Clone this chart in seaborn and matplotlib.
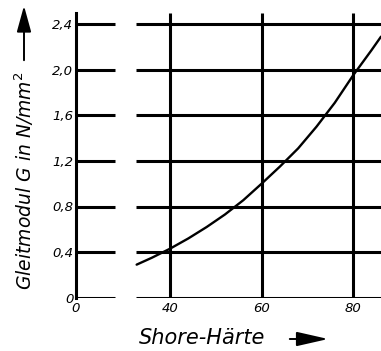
import numpy as np
import pandas as pd
import matplotlib
matplotlib.use("Agg")
import matplotlib.pyplot as plt
from matplotlib.patches import FancyArrowPatch
import seaborn as sns

# Shear modulus of elastomers versus Shore hardness
shore = [32.7, 36.0, 40.0, 44.0, 48.0, 52.0, 56.0, 60.0,
         64.0, 68.0, 72.0, 76.0, 80.0, 84.0, 86.1]
modulus = [0.29, 0.35, 0.43, 0.52, 0.62, 0.73, 0.855, 1.00,
           1.15, 1.31, 1.50, 1.71, 1.95, 2.17, 2.29]

x_ticks = [40, 60, 80]
x_tick_labels = ["40", "60", "80"]
y_ticks = [0.0, 0.4, 0.8, 1.2, 1.6, 2.0, 2.4]
y_tick_labels = ["0", "0,4", "0,8", "1,2", "1,6", "2,0", "2,4"]

x_label = "Shore-Härte"
y_label = "Gleitmodul G in N/mm$^{2}$"

df = pd.DataFrame({"shore": shore, "G": modulus})

sns.set_style("white")
plt.rcParams["font.family"] = ["DejaVu Sans"]
plt.rcParams["mathtext.fontset"] = "dejavusans"
plt.rcParams["mathtext.default"] = "it"
plt.rcParams["text.color"] = "black"
plt.rcParams["xtick.color"] = "black"
plt.rcParams["ytick.color"] = "black"
plt.rcParams["axes.labelcolor"] = "black"

W, H = 381, 351
fig = plt.figure(figsize=(W / 100, H / 100), dpi=100)
ax = fig.add_axes([76 / W, 53.3 / H, 1 - 76 / W, 285 / H])

x_lo, x_hi = 19.45, 86.1
y_lo, y_hi = 0.0, 2.5
gap_lo, gap_hi = 28.0, 32.6   # axis break between 0 and the scaled range

ax.set_xlim(x_lo, x_hi)
ax.set_ylim(y_lo, y_hi)

lw_grid = 2.2
# horizontal grid lines, interrupted by the axis break
ax.hlines(y_ticks, x_lo, gap_lo, color="black", lw=lw_grid, capstyle="butt", zorder=2)
ax.hlines(y_ticks, gap_hi, x_hi, color="black", lw=lw_grid, capstyle="butt", zorder=2)
# vertical grid lines
ax.vlines(x_ticks, y_lo, y_hi, color="black", lw=lw_grid, capstyle="butt", zorder=2)

sns.lineplot(data=df, x="shore", y="G", ax=ax, color="black", lw=1.7,
             zorder=3, sort=True)

for s in ["top", "right", "bottom"]:
    ax.spines[s].set_visible(False)
ax.spines["left"].set_linewidth(lw_grid)
ax.spines["left"].set_color("black")

ax.set_xticks([x_lo] + x_ticks)
ax.set_xticklabels(["0"] + x_tick_labels, fontsize=9.5, style="italic", color="black")
ax.set_yticks(y_ticks)
ax.set_yticklabels(y_tick_labels, fontsize=9.5, style="italic", color="black")
ax.tick_params(axis="both", length=0)
ax.tick_params(axis="x", pad=3)
ax.tick_params(axis="y", pad=2)
ax.set_xlabel("")
ax.set_ylabel("")

# axis titles with direction arrows
fig.text(139 / W, 1 - 338 / H, x_label, fontsize=15, style="italic",
         ha="left", va="center", color="black")
fig.add_artist(FancyArrowPatch(
    (287 / W, 1 - 339 / H), (331 / W, 1 - 339 / H),
    transform=fig.transFigure, arrowstyle="-|>,head_length=0.97,head_width=0.22",
    mutation_scale=20, color="black", lw=1.4))

fig.text(24 / W, 1 - 290 / H, y_label, fontsize=13.5, style="italic",
         rotation=90, ha="center", va="bottom", color="black")
fig.add_artist(FancyArrowPatch(
    (24 / W, 1 - 63 / H), (24 / W, 1 - 3 / H),
    transform=fig.transFigure, arrowstyle="-|>,head_length=0.8,head_width=0.22",
    mutation_scale=20, color="black", lw=1.4))

fig.savefig("out.png", dpi=100)
